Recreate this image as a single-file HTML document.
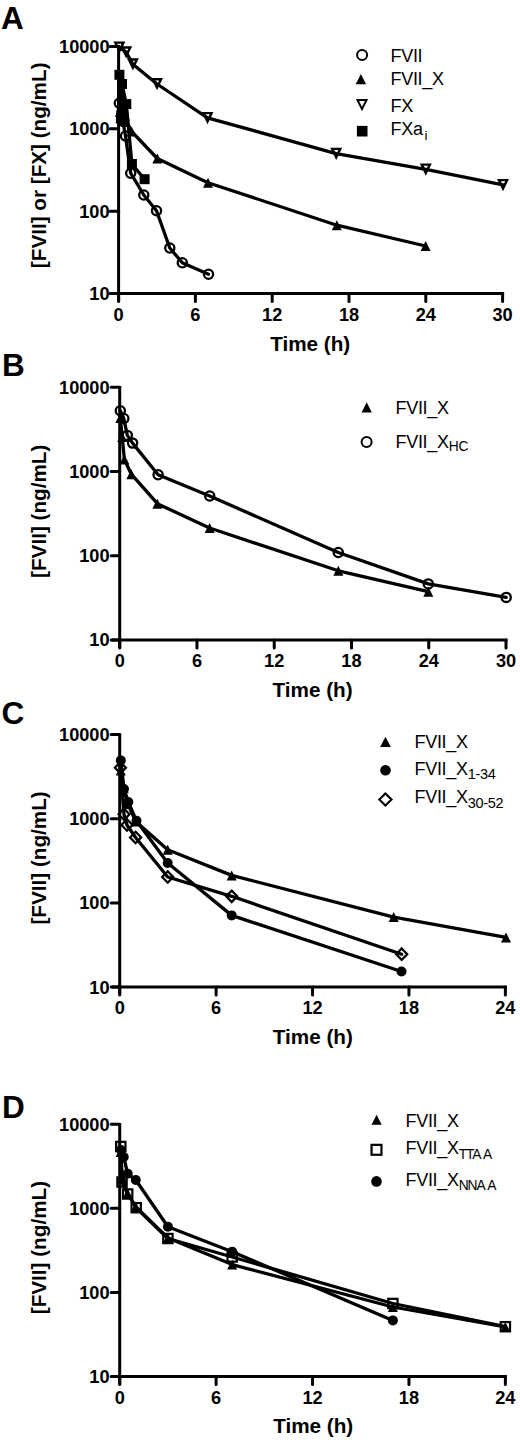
<!DOCTYPE html>
<html><head><meta charset="utf-8"><style>
html,body{margin:0;padding:0;background:#fff;}
body{width:520px;height:1442px;overflow:hidden;}
svg{display:block;font-family:"Liberation Sans",sans-serif;}
</style></head><body>
<svg width="520" height="1442" viewBox="0 0 520 1442">
<line x1="118.6" y1="45.2" x2="118.6" y2="301.6" stroke="#000" stroke-width="3.0"/>
<line x1="110.6" y1="293.6" x2="504.1" y2="293.6" stroke="#000" stroke-width="3.0"/>
<line x1="110.1" y1="293.6" x2="118.6" y2="293.6" stroke="#000" stroke-width="3.0" stroke-linecap="round"/>
<line x1="110.1" y1="211.2" x2="118.6" y2="211.2" stroke="#000" stroke-width="3.0" stroke-linecap="round"/>
<line x1="110.1" y1="128.8" x2="118.6" y2="128.8" stroke="#000" stroke-width="3.0" stroke-linecap="round"/>
<line x1="110.1" y1="46.4" x2="118.6" y2="46.4" stroke="#000" stroke-width="3.0" stroke-linecap="round"/>
<line x1="118.6" y1="293.6" x2="118.6" y2="301.6" stroke="#000" stroke-width="3.0" stroke-linecap="round"/>
<line x1="195.4" y1="293.6" x2="195.4" y2="301.6" stroke="#000" stroke-width="3.0" stroke-linecap="round"/>
<line x1="272.2" y1="293.6" x2="272.2" y2="301.6" stroke="#000" stroke-width="3.0" stroke-linecap="round"/>
<line x1="349" y1="293.6" x2="349" y2="301.6" stroke="#000" stroke-width="3.0" stroke-linecap="round"/>
<line x1="425.8" y1="293.6" x2="425.8" y2="301.6" stroke="#000" stroke-width="3.0" stroke-linecap="round"/>
<line x1="502.6" y1="293.6" x2="502.6" y2="301.6" stroke="#000" stroke-width="3.0" stroke-linecap="round"/>
<text x="109.6" y="300" font-size="18.2" font-weight="bold" text-anchor="end" >10</text>
<text x="109.6" y="217.6" font-size="18.2" font-weight="bold" text-anchor="end" >100</text>
<text x="109.6" y="135.2" font-size="18.2" font-weight="bold" text-anchor="end" >1000</text>
<text x="109.6" y="52.8" font-size="18.2" font-weight="bold" text-anchor="end" >10000</text>
<text x="118.6" y="320.5" font-size="18.2" font-weight="bold" text-anchor="middle" >0</text>
<text x="195.4" y="320.5" font-size="18.2" font-weight="bold" text-anchor="middle" >6</text>
<text x="272.2" y="320.5" font-size="18.2" font-weight="bold" text-anchor="middle" >12</text>
<text x="349" y="320.5" font-size="18.2" font-weight="bold" text-anchor="middle" >18</text>
<text x="425.8" y="320.5" font-size="18.2" font-weight="bold" text-anchor="middle" >24</text>
<text x="502.6" y="320.5" font-size="18.2" font-weight="bold" text-anchor="middle" >30</text>
<text x="310.2" y="350.6" font-size="20.7" font-weight="bold" text-anchor="middle" >Time (h)</text>
<text x="1" y="29.4" font-size="31.5" font-weight="bold" text-anchor="start" >A</text>
<text x="46" y="165.3" font-size="20.7" font-weight="bold" text-anchor="middle" transform="rotate(-90 46 165.3)">[FVII] or [FX] (ng/mL)</text>
<polyline points="119.4,47.3 126.2,52.2 132.9,64.2 157,84 207.5,117.8 336.2,153.6 425.8,169.3 503,184.8" fill="none" stroke="#000" stroke-width="3.3" stroke-linejoin="round" stroke-linecap="round"/>
<polyline points="119.8,112 122.5,116 126.2,122 131.6,131.5 157.3,158.5 208,182.7 336.8,225.2 425.6,246" fill="none" stroke="#000" stroke-width="3.3" stroke-linejoin="round" stroke-linecap="round"/>
<polyline points="119.4,74.8 122,84 126.3,104.1 131.9,164 144.6,179.2" fill="none" stroke="#000" stroke-width="3.3" stroke-linejoin="round" stroke-linecap="round"/>
<polyline points="119.3,103.2 122.3,118 125.5,136 130.7,173.2 143.8,195 156.5,210.8 169.8,248 182.3,262.7 208.5,274.2" fill="none" stroke="#000" stroke-width="3.3" stroke-linejoin="round" stroke-linecap="round"/>
<path d="M117.2 86 L123.5 86 L127.5 108 L129.5 121 L127.5 126.5 L121.5 127 L115.8 123 L116.3 111 L117.2 108Z" fill="#000"/>
<path d="M115.34 42.6 L123.46 42.6 L119.4 50.92Z" fill="none" stroke="#000" stroke-width="2.4" stroke-linejoin="miter"/>
<path d="M122.14 47.5 L130.26 47.5 L126.2 55.82Z" fill="none" stroke="#000" stroke-width="2.4" stroke-linejoin="miter"/>
<path d="M128.84 59.5 L136.96 59.5 L132.9 67.82Z" fill="none" stroke="#000" stroke-width="2.4" stroke-linejoin="miter"/>
<path d="M152.94 79.3 L161.06 79.3 L157 87.62Z" fill="none" stroke="#000" stroke-width="2.4" stroke-linejoin="miter"/>
<path d="M203.44 113.1 L211.56 113.1 L207.5 121.42Z" fill="none" stroke="#000" stroke-width="2.4" stroke-linejoin="miter"/>
<path d="M332.14 148.9 L340.26 148.9 L336.2 157.22Z" fill="none" stroke="#000" stroke-width="2.4" stroke-linejoin="miter"/>
<path d="M421.74 164.6 L429.86 164.6 L425.8 172.92Z" fill="none" stroke="#000" stroke-width="2.4" stroke-linejoin="miter"/>
<path d="M498.94 180.1 L507.06 180.1 L503 188.42Z" fill="none" stroke="#000" stroke-width="2.4" stroke-linejoin="miter"/>
<path d="M119.8 107 L124.8 117 L114.8 117Z" fill="#000"/>
<path d="M122.5 111 L127.5 121 L117.5 121Z" fill="#000"/>
<path d="M126.2 117 L131.2 127 L121.2 127Z" fill="#000"/>
<path d="M131.6 126.5 L136.6 136.5 L126.6 136.5Z" fill="#000"/>
<path d="M157.3 153.5 L162.3 163.5 L152.3 163.5Z" fill="#000"/>
<path d="M208 177.7 L213 187.7 L203 187.7Z" fill="#000"/>
<path d="M336.8 220.2 L341.8 230.2 L331.8 230.2Z" fill="#000"/>
<path d="M425.6 241 L430.6 251 L420.6 251Z" fill="#000"/>
<rect x="114.4" y="69.8" width="10" height="10" fill="#000"/>
<rect x="117" y="79" width="10" height="10" fill="#000"/>
<rect x="121.3" y="99.1" width="10" height="10" fill="#000"/>
<rect x="126.9" y="159" width="10" height="10" fill="#000"/>
<rect x="139.6" y="174.2" width="10" height="10" fill="#000"/>
<circle cx="119.3" cy="103.2" r="4.6" fill="none" stroke="#000" stroke-width="2.3"/>
<circle cx="122.3" cy="118" r="4.6" fill="none" stroke="#000" stroke-width="2.3"/>
<circle cx="125.5" cy="136" r="4.6" fill="none" stroke="#000" stroke-width="2.3"/>
<circle cx="130.7" cy="173.2" r="4.6" fill="none" stroke="#000" stroke-width="2.3"/>
<circle cx="143.8" cy="195" r="4.6" fill="none" stroke="#000" stroke-width="2.3"/>
<circle cx="156.5" cy="210.8" r="4.6" fill="none" stroke="#000" stroke-width="2.3"/>
<circle cx="169.8" cy="248" r="4.6" fill="none" stroke="#000" stroke-width="2.3"/>
<circle cx="182.3" cy="262.7" r="4.6" fill="none" stroke="#000" stroke-width="2.3"/>
<circle cx="208.5" cy="274.2" r="4.6" fill="none" stroke="#000" stroke-width="2.3"/>
<circle cx="362.1" cy="55.1" r="5" fill="none" stroke="#000" stroke-width="2.0"/>
<text x="390.5" y="61.5" font-size="18" font-weight="normal" letter-spacing="-0.3" text-anchor="start" >FVII</text>
<path d="M360.9 73.9 L366.1 84.3 L355.7 84.3Z" fill="#000"/>
<text x="390.5" y="85" font-size="18" font-weight="normal" letter-spacing="-0.3" text-anchor="start" >FVII_X</text>
<path d="M357.5 100 L366.5 100 L362 109.1Z" fill="none" stroke="#000" stroke-width="2.0" stroke-linejoin="miter"/>
<text x="390.5" y="112" font-size="18" font-weight="normal" letter-spacing="-0.3" text-anchor="start" >FX</text>
<rect x="356.9" y="125.9" width="10.6" height="10.6" fill="#000"/>
<text x="390.5" y="135.2" font-size="18" font-weight="normal" letter-spacing="-0.3" text-anchor="start" >FXa<tspan font-size="13.5" dx="1.8" dy="4.3">i</tspan></text>
<line x1="119.7" y1="385.99" x2="119.7" y2="648" stroke="#000" stroke-width="3.0"/>
<line x1="111.7" y1="640" x2="507.51" y2="640" stroke="#000" stroke-width="3.0"/>
<line x1="111.2" y1="640" x2="119.7" y2="640" stroke="#000" stroke-width="3.0" stroke-linecap="round"/>
<line x1="111.2" y1="555.73" x2="119.7" y2="555.73" stroke="#000" stroke-width="3.0" stroke-linecap="round"/>
<line x1="111.2" y1="471.46" x2="119.7" y2="471.46" stroke="#000" stroke-width="3.0" stroke-linecap="round"/>
<line x1="111.2" y1="387.19" x2="119.7" y2="387.19" stroke="#000" stroke-width="3.0" stroke-linecap="round"/>
<line x1="119.7" y1="640" x2="119.7" y2="648" stroke="#000" stroke-width="3.0" stroke-linecap="round"/>
<line x1="196.96" y1="640" x2="196.96" y2="648" stroke="#000" stroke-width="3.0" stroke-linecap="round"/>
<line x1="274.22" y1="640" x2="274.22" y2="648" stroke="#000" stroke-width="3.0" stroke-linecap="round"/>
<line x1="351.49" y1="640" x2="351.49" y2="648" stroke="#000" stroke-width="3.0" stroke-linecap="round"/>
<line x1="428.75" y1="640" x2="428.75" y2="648" stroke="#000" stroke-width="3.0" stroke-linecap="round"/>
<line x1="506.01" y1="640" x2="506.01" y2="648" stroke="#000" stroke-width="3.0" stroke-linecap="round"/>
<text x="109.6" y="646.4" font-size="18.2" font-weight="bold" text-anchor="end" >10</text>
<text x="109.6" y="562.13" font-size="18.2" font-weight="bold" text-anchor="end" >100</text>
<text x="109.6" y="477.86" font-size="18.2" font-weight="bold" text-anchor="end" >1000</text>
<text x="109.6" y="393.59" font-size="18.2" font-weight="bold" text-anchor="end" >10000</text>
<text x="119.7" y="666.8" font-size="18.2" font-weight="bold" text-anchor="middle" >0</text>
<text x="196.96" y="666.8" font-size="18.2" font-weight="bold" text-anchor="middle" >6</text>
<text x="274.22" y="666.8" font-size="18.2" font-weight="bold" text-anchor="middle" >12</text>
<text x="351.49" y="666.8" font-size="18.2" font-weight="bold" text-anchor="middle" >18</text>
<text x="428.75" y="666.8" font-size="18.2" font-weight="bold" text-anchor="middle" >24</text>
<text x="506.01" y="666.8" font-size="18.2" font-weight="bold" text-anchor="middle" >30</text>
<text x="312.6" y="697.4" font-size="20.7" font-weight="bold" text-anchor="middle" >Time (h)</text>
<text x="2" y="375.8" font-size="31.5" font-weight="bold" text-anchor="start" >B</text>
<text x="46" y="511.3" font-size="20.7" font-weight="bold" text-anchor="middle" transform="rotate(-90 46 511.3)">[FVII] (ng/mL)</text>
<polyline points="120.3,418 122.2,437 124.4,459.5 131.3,474.2 157.4,503.7 209.6,528 338.3,570.8 428.3,591.7" fill="none" stroke="#000" stroke-width="3.3" stroke-linejoin="round" stroke-linecap="round"/>
<polyline points="120.3,410.8 123.8,418.5 127.3,435.4 132.6,443.1 158.1,474.7 209.7,496 338.3,552.5 428.3,583.9 506.2,597.4" fill="none" stroke="#000" stroke-width="3.3" stroke-linejoin="round" stroke-linecap="round"/>
<path d="M120.3 413 L125.3 423 L115.3 423Z" fill="#000"/>
<path d="M122.2 432 L127.2 442 L117.2 442Z" fill="#000"/>
<path d="M124.4 454.5 L129.4 464.5 L119.4 464.5Z" fill="#000"/>
<path d="M131.3 469.2 L136.3 479.2 L126.3 479.2Z" fill="#000"/>
<path d="M157.4 498.7 L162.4 508.7 L152.4 508.7Z" fill="#000"/>
<path d="M209.6 523 L214.6 533 L204.6 533Z" fill="#000"/>
<path d="M338.3 565.8 L343.3 575.8 L333.3 575.8Z" fill="#000"/>
<path d="M428.3 586.7 L433.3 596.7 L423.3 596.7Z" fill="#000"/>
<circle cx="120.3" cy="410.8" r="4.6" fill="none" stroke="#000" stroke-width="2.3"/>
<circle cx="123.8" cy="418.5" r="4.6" fill="none" stroke="#000" stroke-width="2.3"/>
<circle cx="127.3" cy="435.4" r="4.6" fill="none" stroke="#000" stroke-width="2.3"/>
<circle cx="132.6" cy="443.1" r="4.6" fill="none" stroke="#000" stroke-width="2.3"/>
<circle cx="158.1" cy="474.7" r="4.6" fill="none" stroke="#000" stroke-width="2.3"/>
<circle cx="209.7" cy="496" r="4.6" fill="none" stroke="#000" stroke-width="2.3"/>
<circle cx="338.3" cy="552.5" r="4.6" fill="none" stroke="#000" stroke-width="2.3"/>
<circle cx="428.3" cy="583.9" r="4.6" fill="none" stroke="#000" stroke-width="2.3"/>
<circle cx="506.2" cy="597.4" r="4.6" fill="none" stroke="#000" stroke-width="2.3"/>
<path d="M366.7 402.3 L371.8 412.5 L361.6 412.5Z" fill="#000"/>
<text x="395.5" y="413.6" font-size="18" font-weight="normal" letter-spacing="-0.3" text-anchor="start" >FVII_X</text>
<circle cx="366.6" cy="442" r="5" fill="none" stroke="#000" stroke-width="2.0"/>
<text x="395.5" y="448.4" font-size="18" font-weight="normal" letter-spacing="-0.3" text-anchor="start" >FVII_X<tspan font-size="13.8" dy="2.8">HC</tspan></text>
<line x1="119.7" y1="733.39" x2="119.7" y2="995.1" stroke="#000" stroke-width="3.0"/>
<line x1="111.7" y1="987.1" x2="506.88" y2="987.1" stroke="#000" stroke-width="3.0"/>
<line x1="111.2" y1="987.1" x2="119.7" y2="987.1" stroke="#000" stroke-width="3.0" stroke-linecap="round"/>
<line x1="111.2" y1="902.93" x2="119.7" y2="902.93" stroke="#000" stroke-width="3.0" stroke-linecap="round"/>
<line x1="111.2" y1="818.76" x2="119.7" y2="818.76" stroke="#000" stroke-width="3.0" stroke-linecap="round"/>
<line x1="111.2" y1="734.59" x2="119.7" y2="734.59" stroke="#000" stroke-width="3.0" stroke-linecap="round"/>
<line x1="119.7" y1="987.1" x2="119.7" y2="995.1" stroke="#000" stroke-width="3.0" stroke-linecap="round"/>
<line x1="216.12" y1="987.1" x2="216.12" y2="995.1" stroke="#000" stroke-width="3.0" stroke-linecap="round"/>
<line x1="312.54" y1="987.1" x2="312.54" y2="995.1" stroke="#000" stroke-width="3.0" stroke-linecap="round"/>
<line x1="408.96" y1="987.1" x2="408.96" y2="995.1" stroke="#000" stroke-width="3.0" stroke-linecap="round"/>
<line x1="505.38" y1="987.1" x2="505.38" y2="995.1" stroke="#000" stroke-width="3.0" stroke-linecap="round"/>
<text x="109.6" y="993.5" font-size="18.2" font-weight="bold" text-anchor="end" >10</text>
<text x="109.6" y="909.33" font-size="18.2" font-weight="bold" text-anchor="end" >100</text>
<text x="109.6" y="825.16" font-size="18.2" font-weight="bold" text-anchor="end" >1000</text>
<text x="109.6" y="740.99" font-size="18.2" font-weight="bold" text-anchor="end" >10000</text>
<text x="119.7" y="1014" font-size="18.2" font-weight="bold" text-anchor="middle" >0</text>
<text x="216.12" y="1014" font-size="18.2" font-weight="bold" text-anchor="middle" >6</text>
<text x="312.54" y="1014" font-size="18.2" font-weight="bold" text-anchor="middle" >12</text>
<text x="408.96" y="1014" font-size="18.2" font-weight="bold" text-anchor="middle" >18</text>
<text x="505.38" y="1014" font-size="18.2" font-weight="bold" text-anchor="middle" >24</text>
<text x="312.8" y="1043.6" font-size="20.7" font-weight="bold" text-anchor="middle" >Time (h)</text>
<text x="1.5" y="723.5" font-size="31.5" font-weight="bold" text-anchor="start" >C</text>
<text x="46" y="857.9" font-size="20.7" font-weight="bold" text-anchor="middle" transform="rotate(-90 46 857.9)">[FVII] (ng/mL)</text>
<polyline points="120.8,770.4 123.7,788.3 127.7,803.9 135.8,821.4 167.7,849.8 231.7,875.4 393.7,917.1 506,937.4" fill="none" stroke="#000" stroke-width="3.3" stroke-linejoin="round" stroke-linecap="round"/>
<polyline points="120.8,760.4 124,789 128.3,802 136.5,820.8 167.7,863 231.7,915.4 401.5,971.5" fill="none" stroke="#000" stroke-width="3.3" stroke-linejoin="round" stroke-linecap="round"/>
<polyline points="120.4,767.7 124,814.2 127,825 135.6,837.5 167.7,877 231.7,896.3 401.7,954.2" fill="none" stroke="#000" stroke-width="3.3" stroke-linejoin="round" stroke-linecap="round"/>
<path d="M120.8 765.4 L125.8 775.4 L115.8 775.4Z" fill="#000"/>
<path d="M123.7 783.3 L128.7 793.3 L118.7 793.3Z" fill="#000"/>
<path d="M127.7 798.9 L132.7 808.9 L122.7 808.9Z" fill="#000"/>
<path d="M135.8 816.4 L140.8 826.4 L130.8 826.4Z" fill="#000"/>
<path d="M167.7 844.8 L172.7 854.8 L162.7 854.8Z" fill="#000"/>
<path d="M231.7 870.4 L236.7 880.4 L226.7 880.4Z" fill="#000"/>
<path d="M393.7 912.1 L398.7 922.1 L388.7 922.1Z" fill="#000"/>
<path d="M506 932.4 L511 942.4 L501 942.4Z" fill="#000"/>
<circle cx="120.8" cy="760.4" r="5" fill="#000"/>
<circle cx="124" cy="789" r="5" fill="#000"/>
<circle cx="128.3" cy="802" r="5" fill="#000"/>
<circle cx="136.5" cy="820.8" r="5" fill="#000"/>
<circle cx="167.7" cy="863" r="5" fill="#000"/>
<circle cx="231.7" cy="915.4" r="5" fill="#000"/>
<circle cx="401.5" cy="971.5" r="5" fill="#000"/>
<path d="M120.4 762.01 L125.89 767.7 L120.4 773.39 L114.91 767.7Z" fill="none" stroke="#000" stroke-width="2.3"/>
<path d="M124 808.51 L129.49 814.2 L124 819.89 L118.51 814.2Z" fill="none" stroke="#000" stroke-width="2.3"/>
<path d="M127 819.31 L132.49 825 L127 830.69 L121.51 825Z" fill="none" stroke="#000" stroke-width="2.3"/>
<path d="M135.6 831.81 L141.09 837.5 L135.6 843.19 L130.11 837.5Z" fill="none" stroke="#000" stroke-width="2.3"/>
<path d="M167.7 871.31 L173.19 877 L167.7 882.69 L162.21 877Z" fill="none" stroke="#000" stroke-width="2.3"/>
<path d="M231.7 890.61 L237.19 896.3 L231.7 901.99 L226.21 896.3Z" fill="none" stroke="#000" stroke-width="2.3"/>
<path d="M401.7 948.51 L407.19 954.2 L401.7 959.89 L396.21 954.2Z" fill="none" stroke="#000" stroke-width="2.3"/>
<path d="M385.5 736.7 L390.85 747.1 L380.15 747.1Z" fill="#000"/>
<text x="414.5" y="747.6" font-size="18" font-weight="normal" letter-spacing="-0.3" text-anchor="start" >FVII_X</text>
<circle cx="385.5" cy="770.3" r="5.3" fill="#000"/>
<text x="414.5" y="774.8" font-size="18" font-weight="normal" letter-spacing="-0.3" text-anchor="start" >FVII_X<tspan font-size="14.5" dy="4.3">1-34</tspan></text>
<path d="M385.4 793.47 L391.53 799.5 L385.4 805.53 L379.27 799.5Z" fill="none" stroke="#000" stroke-width="2.1"/>
<text x="414.5" y="803.3" font-size="18" font-weight="normal" letter-spacing="-0.3" text-anchor="start" >FVII_X<tspan font-size="14.5" dy="4.7">30-52</tspan></text>
<line x1="119.7" y1="1123" x2="119.7" y2="1384.5" stroke="#000" stroke-width="3.0"/>
<line x1="111.7" y1="1376.5" x2="506.88" y2="1376.5" stroke="#000" stroke-width="3.0"/>
<line x1="111.2" y1="1376.5" x2="119.7" y2="1376.5" stroke="#000" stroke-width="3.0" stroke-linecap="round"/>
<line x1="111.2" y1="1292.4" x2="119.7" y2="1292.4" stroke="#000" stroke-width="3.0" stroke-linecap="round"/>
<line x1="111.2" y1="1208.3" x2="119.7" y2="1208.3" stroke="#000" stroke-width="3.0" stroke-linecap="round"/>
<line x1="111.2" y1="1124.2" x2="119.7" y2="1124.2" stroke="#000" stroke-width="3.0" stroke-linecap="round"/>
<line x1="119.7" y1="1376.5" x2="119.7" y2="1384.5" stroke="#000" stroke-width="3.0" stroke-linecap="round"/>
<line x1="216.12" y1="1376.5" x2="216.12" y2="1384.5" stroke="#000" stroke-width="3.0" stroke-linecap="round"/>
<line x1="312.54" y1="1376.5" x2="312.54" y2="1384.5" stroke="#000" stroke-width="3.0" stroke-linecap="round"/>
<line x1="408.96" y1="1376.5" x2="408.96" y2="1384.5" stroke="#000" stroke-width="3.0" stroke-linecap="round"/>
<line x1="505.38" y1="1376.5" x2="505.38" y2="1384.5" stroke="#000" stroke-width="3.0" stroke-linecap="round"/>
<text x="109.6" y="1382.9" font-size="18.2" font-weight="bold" text-anchor="end" >10</text>
<text x="109.6" y="1298.8" font-size="18.2" font-weight="bold" text-anchor="end" >100</text>
<text x="109.6" y="1214.7" font-size="18.2" font-weight="bold" text-anchor="end" >1000</text>
<text x="109.6" y="1130.6" font-size="18.2" font-weight="bold" text-anchor="end" >10000</text>
<text x="119.7" y="1403.5" font-size="18.2" font-weight="bold" text-anchor="middle" >0</text>
<text x="216.12" y="1403.5" font-size="18.2" font-weight="bold" text-anchor="middle" >6</text>
<text x="312.54" y="1403.5" font-size="18.2" font-weight="bold" text-anchor="middle" >12</text>
<text x="408.96" y="1403.5" font-size="18.2" font-weight="bold" text-anchor="middle" >18</text>
<text x="505.38" y="1403.5" font-size="18.2" font-weight="bold" text-anchor="middle" >24</text>
<text x="313.2" y="1433.4" font-size="20.7" font-weight="bold" text-anchor="middle" >Time (h)</text>
<text x="2" y="1117.7" font-size="31.5" font-weight="bold" text-anchor="start" >D</text>
<text x="46" y="1247.6" font-size="20.7" font-weight="bold" text-anchor="middle" transform="rotate(-90 46 1247.6)">[FVII] (ng/mL)</text>
<polyline points="120.6,1152 122.3,1178 127.6,1193.5 135.9,1207 167.91,1238 232.19,1264.6 392.89,1307 505.38,1327" fill="none" stroke="#000" stroke-width="3.3" stroke-linejoin="round" stroke-linecap="round"/>
<polyline points="120.8,1146.5 122,1182 127.7,1194 136.2,1207.7 167.91,1238.5 232.19,1257 392.89,1303.5 505.38,1326.7" fill="none" stroke="#000" stroke-width="3.3" stroke-linejoin="round" stroke-linecap="round"/>
<polyline points="121.03,1150 123.72,1157 127.73,1173.8 135.77,1180 167.91,1226.8 232.19,1251.7 392.89,1320.4" fill="none" stroke="#000" stroke-width="3.3" stroke-linejoin="round" stroke-linecap="round"/>
<path d="M120.6 1147 L125.6 1157 L115.6 1157Z" fill="#000"/>
<path d="M122.3 1173 L127.3 1183 L117.3 1183Z" fill="#000"/>
<path d="M127.6 1188.5 L132.6 1198.5 L122.6 1198.5Z" fill="#000"/>
<path d="M135.9 1202 L140.9 1212 L130.9 1212Z" fill="#000"/>
<path d="M167.91 1233 L172.91 1243 L162.91 1243Z" fill="#000"/>
<path d="M232.19 1259.6 L237.19 1269.6 L227.19 1269.6Z" fill="#000"/>
<path d="M392.89 1302 L397.89 1312 L387.89 1312Z" fill="#000"/>
<path d="M505.38 1322 L510.38 1332 L500.38 1332Z" fill="#000"/>
<rect x="116.15" y="1141.85" width="9.3" height="9.3" fill="none" stroke="#000" stroke-width="2.2"/>
<rect x="117.35" y="1177.35" width="9.3" height="9.3" fill="none" stroke="#000" stroke-width="2.2"/>
<rect x="123.05" y="1189.35" width="9.3" height="9.3" fill="none" stroke="#000" stroke-width="2.2"/>
<rect x="131.55" y="1203.05" width="9.3" height="9.3" fill="none" stroke="#000" stroke-width="2.2"/>
<rect x="163.26" y="1233.85" width="9.3" height="9.3" fill="none" stroke="#000" stroke-width="2.2"/>
<rect x="227.54" y="1252.35" width="9.3" height="9.3" fill="none" stroke="#000" stroke-width="2.2"/>
<rect x="388.24" y="1298.85" width="9.3" height="9.3" fill="none" stroke="#000" stroke-width="2.2"/>
<rect x="500.73" y="1322.05" width="9.3" height="9.3" fill="none" stroke="#000" stroke-width="2.2"/>
<circle cx="121.03" cy="1150" r="5" fill="#000"/>
<circle cx="123.72" cy="1157" r="5" fill="#000"/>
<circle cx="127.73" cy="1173.8" r="5" fill="#000"/>
<circle cx="135.77" cy="1180" r="5" fill="#000"/>
<circle cx="167.91" cy="1226.8" r="5" fill="#000"/>
<circle cx="232.19" cy="1251.7" r="5" fill="#000"/>
<circle cx="392.89" cy="1320.4" r="5" fill="#000"/>
<path d="M376.6 1114.7 L381.7 1124.7 L371.5 1124.7Z" fill="#000"/>
<text x="405.5" y="1126.9" font-size="18" font-weight="normal" letter-spacing="-0.3" text-anchor="start" >FVII_X</text>
<rect x="371.55" y="1144.85" width="9.9" height="9.9" fill="none" stroke="#000" stroke-width="2.2"/>
<text x="405.5" y="1154.3" font-size="18" font-weight="normal" letter-spacing="-0.3" text-anchor="start" >FVII_X<tspan font-size="13.8" dy="4.4" letter-spacing="-1.1">TTA</tspan><tspan font-size="13.8" dx="2.6">A</tspan></text>
<circle cx="376.5" cy="1181.4" r="5.3" fill="#000"/>
<text x="405.5" y="1185.5" font-size="18" font-weight="normal" letter-spacing="-0.3" text-anchor="start" >FVII_X<tspan font-size="13.8" dy="4.3" letter-spacing="-1.1">NNA</tspan><tspan font-size="13.8" dx="2.6">A</tspan></text>
</svg>
</body></html>
